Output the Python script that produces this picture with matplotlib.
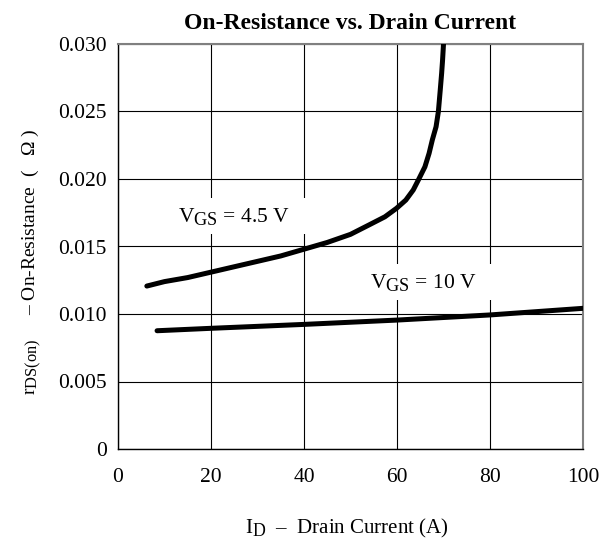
import matplotlib
matplotlib.use("Agg")
import matplotlib.pyplot as plt
try:
    import matplotlib._mathtext as _mt
    _mt.SHRINK_FACTOR = 0.85
except Exception:
    pass

# Data
id_45 = [6.2, 10, 15, 20, 25, 30, 35, 40, 45, 50, 54, 57.4, 59.9, 61.9, 63.5,
         64.7, 66.0, 66.9, 67.6, 68.4, 68.9, 69.3, 69.6, 69.8, 70.0]
r_45 = [0.01207, 0.0124, 0.0127, 0.0131, 0.0135, 0.0139, 0.0143, 0.0148, 0.0153,
        0.0159, 0.0166, 0.0172, 0.01783, 0.01844, 0.01919, 0.0200, 0.0209, 0.0219,
        0.0229, 0.02387, 0.0250, 0.02659, 0.02783, 0.02881, 0.0300]
id_10 = [8.4, 20, 40, 60, 80, 100]
r_10 = [0.00876, 0.00894, 0.00923, 0.00955, 0.00993, 0.01042]

x_ticks = [0, 20, 40, 60, 80, 100]
y_ticks = [0, 0.005, 0.010, 0.015, 0.020, 0.025, 0.030]
y_tick_labels = ["0", "0.005", "0.010", "0.015", "0.020", "0.025", "0.030"]

plt.rcParams['font.family'] = ['Liberation Serif', 'DejaVu Serif']
plt.rcParams['mathtext.fontset'] = 'custom'
plt.rcParams['mathtext.rm'] = 'Liberation Serif'
plt.rcParams['mathtext.it'] = 'Liberation Serif'
plt.rcParams['mathtext.default'] = 'rm'

fig = plt.figure(figsize=(6.08, 5.40), dpi=100)
ax = fig.add_axes([118/608, 91/540, 465/608, 405/540])

ax.set_xlim(0, 100)
ax.set_ylim(0, 0.030)
ax.set_xticks(x_ticks)
ax.set_yticks(y_ticks)
ax.set_yticklabels(y_tick_labels)
ax.tick_params(length=0, labelsize=15.5, colors='black')
ax.tick_params(axis='y', pad=8)
ax.tick_params(axis='x', pad=14)
ax.grid(True, color='black', linewidth=0.8)
ax.set_axisbelow(True)

for s in ['left', 'bottom']:
    ax.spines[s].set_color('black')
    ax.spines[s].set_linewidth(1.0)
for s in ['top', 'right']:
    ax.spines[s].set_color('#808080')
    ax.spines[s].set_linewidth(1.5)

ax.plot(id_45, r_45, color='black', linewidth=3.6, solid_capstyle='round',
        solid_joinstyle='round', zorder=3)
ax.plot(id_10, r_10, color='black', linewidth=3.6, solid_capstyle='round',
        solid_joinstyle='round', zorder=3)

box = dict(facecolor='white', edgecolor='none', boxstyle='square,pad=0.35')
ax.text(12.9, 0.01684, r'V$_{\mathrm{GS}}$ = 4.5 V    ', fontsize=15.5,
        ha='left', va='baseline', bbox=box, zorder=2)
ax.text(54.2, 0.01193, r'V$_{\mathrm{GS}}$ = 10 V    ', fontsize=15.5,
        ha='left', va='baseline', bbox=box, zorder=2)

ax.set_title('On-Resistance vs. Drain Current', fontsize=17, fontweight='bold',
             pad=11)
ax.set_xlabel(r'I$_{\mathrm{D}}$  –  Drain Current (A)', fontsize=15)
ax.set_ylabel(r'r$_{\mathrm{DS(on)}}$     – On-Resistance  (   Ω )', fontsize=14)
ax.xaxis.set_label_coords(0.492, -0.168)
ax.yaxis.set_label_coords(-0.161, 0.462)

fig.savefig('out.png', dpi=100)
